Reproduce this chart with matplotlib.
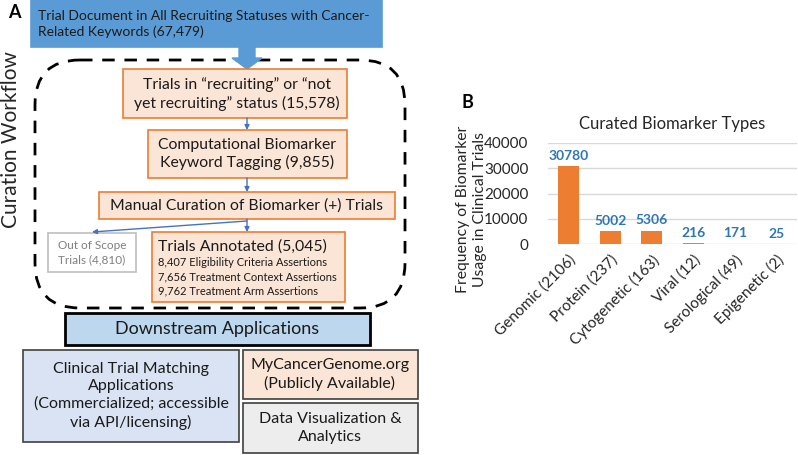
import matplotlib
matplotlib.use("Agg")
import matplotlib.pyplot as plt
from matplotlib.patches import FancyBboxPatch, Rectangle, FancyArrow

plt.rcParams['font.family'] = ['Lato', 'DejaVu Sans']

############# DATA #############################################################

categories = ["Genomic (2106)", "Protein (237)", "Cytogenetic (163)",
              "Viral (12)", "Serological (49)", "Epigenetic (2)"]
usage = [30780, 5002, 5306, 216, 171, 25]
yticks = [0, 10000, 20000, 30000, 40000]

top_text = "Trial Document in All Recruiting Statuses with Cancer-\nRelated Keywords (67,479)"
step_texts = ["Trials in \u201crecruiting\u201d or \u201cnot\nyet recruiting\u201d status (15,578)",
              "Computational Biomarker\nKeyword Tagging (9,855)",
              "Manual Curation of Biomarker (+) Trials"]
out_text = "Out of Scope\nTrials (4,810)"
annot_title = "Trials Annotated (5,045)"
annot_lines = ["8,407 Eligibility Criteria Assertions",
               "7,656 Treatment Context Assertions",
               "9,762 Treatment Arm Assertions"]
apps = ["Clinical Trial Matching\nApplications\n(Commercialized; accessible\nvia API/licensing)",
        "MyCancerGenome.org\n(Publicly Available)",
        "Data Visualization &\nAnalytics"]

BLUE = "#5B9BD5"
ORANGE = "#ED7D31"
LIGHT_OR = "#FBE5D6"
ARROW = "#4472C4"
TXT = "#1a1a1a"

fig = plt.figure(figsize=(7.98, 4.55), dpi=100)

############# PANEL A (flowchart, pixel coords) ################################

ax = fig.add_axes([0, 0, 1, 1])
ax.set_xlim(0, 798)
ax.set_ylim(455, 0)
ax.axis("off")

def box(x0, y0, x1, y1, fc, ec, lw=1.2):
	ax.add_patch(Rectangle((x0, y0), x1 - x0, y1 - y0, fc=fc, ec=ec, lw=lw))

def small_arrow(x0, y0, x1, y1):
	ax.annotate("", xy=(x1, y1), xytext=(x0, y0),
		arrowprops=dict(arrowstyle="-|>", color=ARROW, lw=1, mutation_scale=7,
		                shrinkA=0, shrinkB=0))

ax.text(14, 13, "A", fontsize=13, fontweight="bold", ha="center", va="center")

# top box
box(31, 0, 382, 47, BLUE, BLUE)
ax.text(38, 24, top_text, fontsize=10, color=TXT, ha="left", va="center", linespacing=1.35)

# dashed workflow region
ax.add_patch(FancyBboxPatch((35, 60), 370, 248, boxstyle="round,pad=0,rounding_size=45",
	fc="none", ec="black", lw=2, ls=(0, (4.5, 3.5))))
ax.text(11, 140, "Curation Workflow", fontsize=15, rotation=90, ha="center", va="center",
	color="#262626")

# big arrow into region
ax.add_patch(FancyArrow(247, 47, 0, 22, width=16, head_width=30, head_length=11,
	length_includes_head=True, fc=BLUE, ec=BLUE))

# curation steps
box(123, 69, 347, 118, LIGHT_OR, ORANGE)
ax.text(237, 94, step_texts[0], fontsize=11.3, ha="center", va="center", color=TXT, linespacing=1.3)
small_arrow(247, 118, 247, 130)
box(148, 130, 347, 178, LIGHT_OR, ORANGE)
ax.text(247, 154, step_texts[1], fontsize=11.3, ha="center", va="center", color=TXT, linespacing=1.3)
small_arrow(247, 178, 247, 192)
box(99, 192, 395, 219, LIGHT_OR, ORANGE)
ax.text(247, 205.5, step_texts[2], fontsize=11.3, ha="center", va="center", color=TXT)
small_arrow(247, 219, 247, 232)
small_arrow(247, 221, 92, 232)

# out of scope
box(48, 233, 136, 272, "white", "#BFBFBF")
ax.text(92, 252.5, out_text, fontsize=8.5, ha="center", va="center", color="#7F7F7F", linespacing=1.3)

# trials annotated
box(152, 232, 345, 302, LIGHT_OR, ORANGE)
ax.text(158, 247, annot_title, fontsize=11.4, ha="left", va="center", color=TXT)
for i, line in enumerate(annot_lines):
	ax.text(158, 263 + i * 14, line, fontsize=8, ha="left", va="center", color=TXT)

# downstream
box(65, 313, 370, 345, "#BDD7EE", "black", lw=2)
ax.text(217, 329, "Downstream Applications", fontsize=13, ha="center", va="center", color=TXT)
box(23, 350, 239, 442, "#DAE3F3", "#404040")
ax.text(131, 396, apps[0], fontsize=11.5, ha="center", va="center", color=TXT, linespacing=1.3)
box(243, 350, 418, 399, LIGHT_OR, "#404040")
ax.text(330, 374.5, apps[1], fontsize=11.5, ha="center", va="center", color=TXT, linespacing=1.3)
box(243, 403, 418, 453, "#EDEDED", "#404040")
ax.text(330, 428, apps[2], fontsize=11.5, ha="center", va="center", color=TXT, linespacing=1.3)

############# PANEL B (bar chart) ##############################################

fig.text(467 / 798, 1 - 103 / 455, "B", fontsize=13, fontweight="bold", ha="center", va="center")

bx = fig.add_axes([548 / 798, 1 - 244 / 455, 249 / 798, 101 / 455])
pos = range(len(categories))
bars = bx.bar(pos, usage, width=0.5, color=ORANGE, zorder=2)
for p, v in zip(pos, usage):
	bx.annotate(str(v), (p, v), xytext=(0, 3), textcoords="offset points",
		ha="center", va="bottom", fontsize=10, fontweight="bold", color="#2E75B6")

bx.set_xlim(-0.5, len(categories) - 0.5)
bx.set_ylim(0, 40000)
bx.set_yticks(yticks)
bx.set_xticks(list(pos))
bx.set_xticklabels(categories, rotation=45, ha="right", va="top", rotation_mode="anchor")
bx.tick_params(length=0, labelsize=11, colors="#262626")
bx.tick_params(axis="y", pad=14)
bx.tick_params(axis="x", pad=6)
bx.grid(axis="y", color="#D9D9D9", lw=1, zorder=0)
for s in bx.spines.values():
	s.set_visible(False)
bx.set_title("Curated Biomarker Types", fontsize=12, color="#262626", pad=10)
bx.set_ylabel("Frequency of Biomarker\nUsage in Clinical Trials", fontsize=11.3, color="#262626",
	linespacing=1.3)
bx.yaxis.set_label_coords(-0.245, 0.34)

fig.savefig("out.png", dpi=100)
